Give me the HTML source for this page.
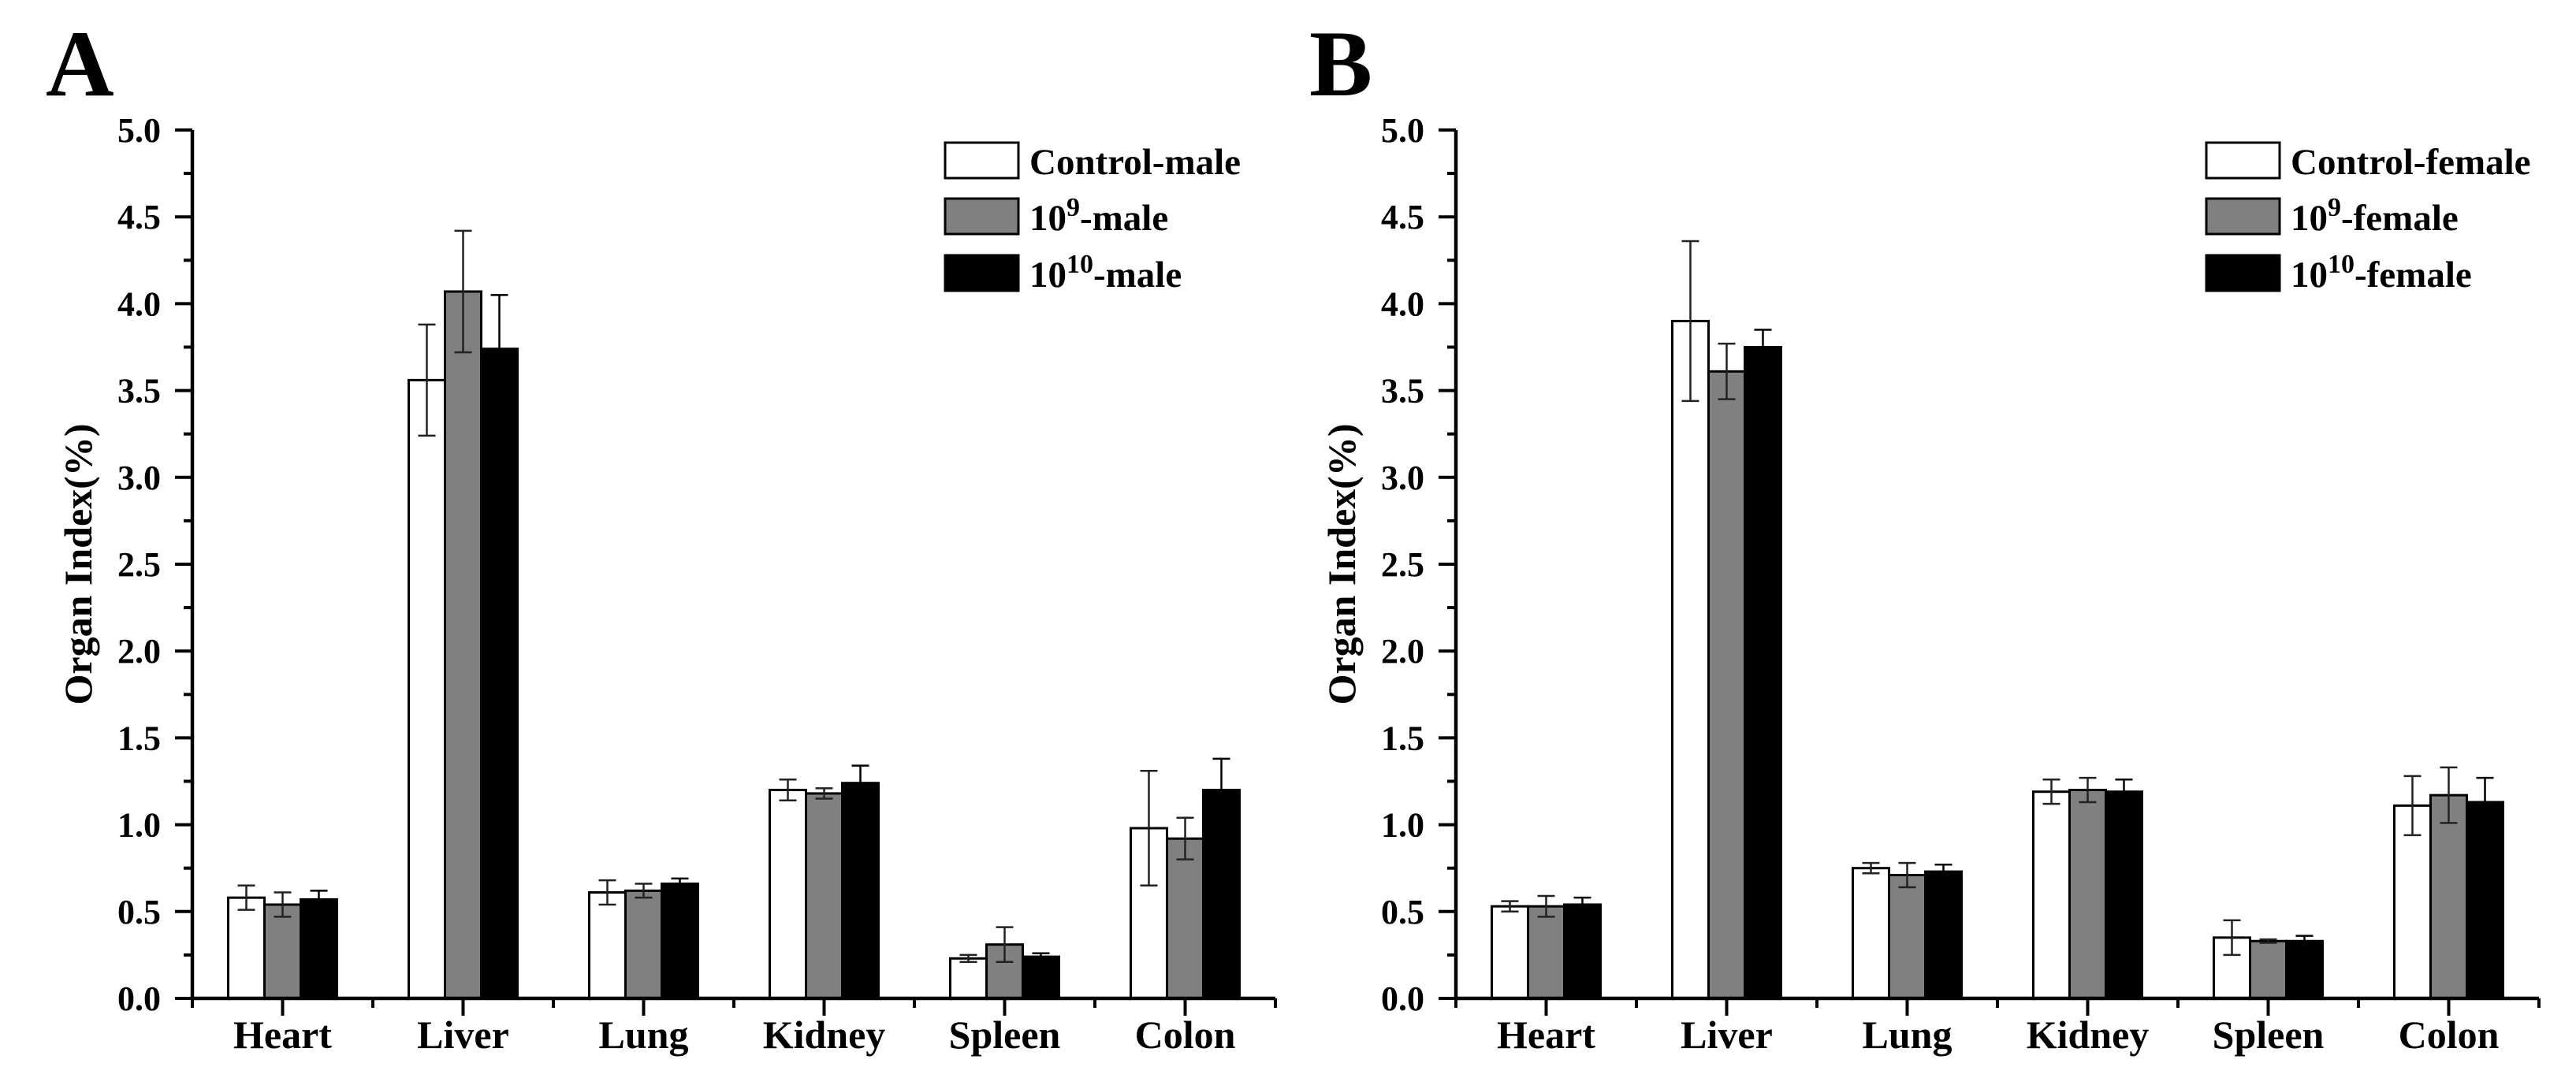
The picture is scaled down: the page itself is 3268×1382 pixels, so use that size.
<!DOCTYPE html>
<html><head><meta charset="utf-8"><style>
html,body{margin:0;padding:0;background:#fff;}
svg{display:block;font-family:"Liberation Serif",serif;font-weight:bold;}
</style></head><body>
<svg id="fig" width="3268" height="1382" viewBox="0 0 3268 1382" xmlns="http://www.w3.org/2000/svg"></svg>
<script>
const categories = ["Heart","Liver","Lung","Kidney","Spleen","Colon"];
const yTicks = ["0.0","0.5","1.0","1.5","2.0","2.5","3.0","3.5","4.0","4.5","5.0"];
const maleControl = [0.58,3.56,0.61,1.20,0.23,0.98];
const maleControlErr = [0.07,0.32,0.07,0.06,0.02,0.33];
const male9 = [0.54,4.07,0.62,1.18,0.31,0.92];
const male9Err = [0.07,0.35,0.04,0.03,0.10,0.12];
const male10 = [0.57,3.74,0.66,1.24,0.24,1.20];
const male10Err = [0.05,0.31,0.03,0.10,0.02,0.18];
const femaleControl = [0.53,3.90,0.75,1.19,0.35,1.11];
const femaleControlErr = [0.03,0.46,0.03,0.07,0.10,0.17];
const female9 = [0.53,3.61,0.71,1.20,0.33,1.17];
const female9Err = [0.06,0.16,0.07,0.07,0.01,0.16];
const female10 = [0.54,3.75,0.73,1.19,0.33,1.13];
const female10Err = [0.04,0.10,0.04,0.07,0.03,0.14];
const legendMale = ["Control-male","10|9|-male","10|10|-male"];
const legendFemale = ["Control-female","10|9|-female","10|10|-female"];

const NS="http://www.w3.org/2000/svg";
const svg=document.getElementById('fig');
function mk(tag,attrs,parent){const e=document.createElementNS(NS,tag);for(const k in attrs)e.setAttribute(k,attrs[k]);(parent||svg).appendChild(e);return e;}

const fills=["#ffffff","#808080","#000000"];
const yTop=165, yBot=1267, yMax=5;
function yScale(v){return yBot-(v/yMax)*(yBot-yTop);}

function panel(ax,letter,series,errs,legend,lx,pname){
  const g=mk('g',{});
  
  
  const catW=229, plotW=catW*categories.length, barW=46;
  function xCenter(i){return ax+catW*(i+0.5);}
  const lt=mk('text',{x:ax-186,y:121,'font-size':120},g);
  lt.textContent=letter;
  
  
  // bars
  for(let s=0;s<3;s++){
    for(let i=0;i<categories.length;i++){
      const x=xCenter(i)-1.5*barW+s*barW, v=series[s][i];
      const r=mk('rect',{x:x,y:yScale(v),width:barW,height:yBot-yScale(v),fill:fills[s],stroke:'#000','stroke-width':3},g);
      
      
      const cx=x+barW/2, e=errs[s][i];
      const ec = s===2? '#000':'#222';
      const eb=mk('path',{d:`M${cx},${yScale(v+e)}V${yScale(v-e)}M${cx-11},${yScale(v+e)}h22M${cx-11},${yScale(v-e)}h22`,stroke:ec,'stroke-width':2.5,fill:'none'},g);
      
      
    }
  }
  // axes
  const axes=mk('path',{d:`M${ax},${yTop}V${yBot}H${ax+plotW}`,stroke:'#000','stroke-width':4.5,fill:'none'},g);
  
  
  for(let k=0;k<yTicks.length;k++){
    const v=parseFloat(yTicks[k]), y=yScale(v);
    mk('line',{x1:ax-22,x2:ax,y1:y,y2:y,stroke:'#000','stroke-width':4},g);
    const t=mk('text',{x:ax-40,y:y+15,'font-size':44,'text-anchor':'end'},g);
    t.textContent=yTicks[k];
    
    
    if(k<yTicks.length-1){const ym=yScale(v+0.25);mk('line',{x1:ax-11,x2:ax,y1:ym,y2:ym,stroke:'#000','stroke-width':4},g);}
  }
  for(let i=0;i<=categories.length;i++){
    const x=ax+catW*i;
    mk('line',{x1:x,x2:x,y1:yBot,y2:yBot+12,stroke:'#000','stroke-width':4},g);
  }
  for(let i=0;i<categories.length;i++){
    const x=xCenter(i);
    mk('line',{x1:x,x2:x,y1:yBot,y2:yBot+22,stroke:'#000','stroke-width':4},g);
    const t=mk('text',{x:x,y:1330,'font-size':50,'text-anchor':'middle'},g);
    t.textContent=categories[i];
    
    
  }
  const yt=mk('text',{x:0,y:0,'font-size':50,'text-anchor':'middle',transform:`translate(${ax-128},716) rotate(-90)`},g);
  yt.textContent='Organ Index(%)';
  
  
  // legend
  const rows=[181,252,324];
  for(let s=0;s<3;s++){
    const r=mk('rect',{x:lx,y:rows[s],width:93,height:45,fill:fills[s],stroke:'#000','stroke-width':3},g);
    
    
    const parts=legend[s].split('|');
    const t=mk('text',{x:lx+107,y:rows[s]+40,'font-size':47},g);
    
    
    if(parts.length===1){t.textContent=parts[0];}
    else{
      const a=mk('tspan',{},t);a.textContent=parts[0];
      const b=mk('tspan',{dy:-18,'font-size':34},t);b.textContent=parts[1];
      const c=mk('tspan',{dy:18},t);c.textContent=parts[2];
    }
  }
}
panel(244,'A',[maleControl,male9,male10],[maleControlErr,male9Err,male10Err],legendMale,1199,'panel-a-male');
panel(1847,'B',[femaleControl,female9,female10],[femaleControlErr,female9Err,female10Err],legendFemale,2799,'panel-b-female');
</script>
</body></html>
